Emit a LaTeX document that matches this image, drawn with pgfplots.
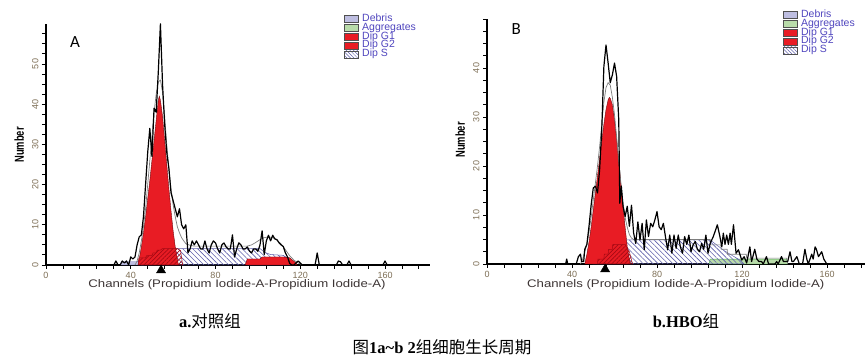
\documentclass[border=0pt]{standalone}
\usepackage{fontspec}
\setmainfont{Liberation Sans}
\newfontfamily\cjk{Noto Sans CJK SC}
\newfontfamily\tnr{Liberation Serif}
\newfontfamily\calfont{Carlito}
\usepackage{graphicx}
\usepackage{pgfplots}
\pgfplotsset{compat=1.18}
\usetikzlibrary{patterns.meta}

\definecolor{redfill}{RGB}{232,28,36}
\definecolor{redhatch}{RGB}{165,10,20}
\definecolor{sblue}{RGB}{95,95,170}
\definecolor{debris}{RGB}{190,190,225}
\definecolor{aggr}{RGB}{185,220,170}
\definecolor{modelgray}{RGB}{125,125,125}
\definecolor{legtext}{RGB}{80,70,190}
\definecolor{legbord}{RGB}{80,80,80}
\definecolor{tickc}{RGB}{125,110,85}
\definecolor{labc}{RGB}{60,52,52}

\pgfplotsset{
  fcm/.style={
    scale only axis, clip=false,
    axis x line=bottom, axis y line=left,
    axis line style={-, line width=1.1pt, black},
    xmin=0, ymin=0,
    xtick={0,40,...,160}, minor xtick={0,8,...,176},
    tick align=outside, major tick length=4pt, minor tick length=4pt,
    tick style={black, line width=0.9pt},
    tick label style={font=\fontsize{9}{9}\selectfont, text=tickc},
    /pgf/number format/assume math mode=true,
    yticklabel style={rotate=90, anchor=south},
    xlabel={\scalebox{1.2}[1]{\fontsize{11}{11}\selectfont Channels (Propidium Iodide-A-Propidium Iodide-A)}},
    xlabel style={anchor=center, text=labc},
    ylabel={\scalebox{0.72}[1]{\fontsize{13}{13}\selectfont\bfseries Number}},
    ylabel style={anchor=center},
    legend image code/.code={\draw[#1] (0pt,-3.5pt) rectangle (14pt,3.5pt);},
    legend cell align=left,
    legend style={anchor=north west, draw=none, fill=none, inner sep=0pt,
      font=\fontsize{10.5}{10.5}\selectfont, text=legtext, row sep=0pt,
      nodes={text height=6.5pt, text depth=1.5pt, inner ysep=0.4pt, inner xsep=3.5pt}},
  },
  S/.style={draw=sblue, line width=0.5pt, pattern={Lines[angle=-45,distance=3.5pt,line width=0.6pt]}, pattern color=sblue, forget plot},
  RH/.style={draw=redhatch, line width=0.5pt, pattern={Lines[angle=45,distance=3pt,line width=0.6pt]}, pattern color=redhatch, forget plot},
  RF/.style={draw=redhatch!70!black, line width=0.4pt, fill=redfill, forget plot},
  model/.style={draw=modelgray, line width=0.7pt, forget plot},
  data/.style={draw=black, line width=1.2pt, line join=round, forget plot},
}

\begin{document}
\begin{tikzpicture}
\path[use as bounding box] (0,0) rectangle (867pt,358pt);

% ---------------- Panel A ----------------
\begin{axis}[fcm, at={(46pt,93pt)}, anchor=south west,
  width=383.5pt, height=241.2pt, xmax=181, ymax=60,
  ytick={0,10,...,50}, minor ytick={0,2.5,...,57.5},
  legend style={at={(0.777,1.0386)}},
  ylabel style={at={(axis description cs:-0.070,0.498)}},
  xlabel style={at={(axis description cs:0.498,-0.083)}}]
\addlegendimage{fill=debris, draw=legbord}
\addlegendimage{fill=aggr, draw=legbord}
\addlegendimage{fill=redfill, draw=legbord}
\addlegendimage{fill=redfill, draw=legbord}
\addlegendimage{draw=legbord, pattern={Lines[angle=-45,distance=2.5pt,line width=0.5pt]}, pattern color=sblue}
\legend{Debris, Aggregates, Dip G1, Dip G2, Dip S}
% debris
\addplot[fill=debris, draw=sblue, line width=0.4pt, forget plot] coordinates {(35,0)(35.5,0.8)(43,0.8)(44,1.2)(45,0.6)(46,0)} \closedcycle;
% S phase
\addplot[S] coordinates {(45,0)(48,2)(52,3.5)(55,4.1)(101,4.1)(103,3.2)(106,2.6)(112,2.4)(116,1)(117.5,0)} \closedcycle;
% G1
\addplot[RF] coordinates {(43.5,0)(44,1.5)(45,4.5)(46,8)(47,12)(48,16.5)(49,21)(50,26)(51,31)(52,36)(53,41)(53.5,42)(54,41)(55,37)(56,31)(57,25)(58,19)(59,13.5)(60,8.5)(61,4.5)(62,1.5)(62.5,0)} \closedcycle;
% G2
\addplot[RF] coordinates {(94,0)(95,1.5)(101,1.5)(102,2)(112,2)(115,1.8)(118,0.5)(118.5,0)} \closedcycle;
% red hatched
\addplot[RH] coordinates {(43.5,0)(43.8,1.8)(47,1.8)(47.5,2.3)(50,2.3)(50.5,3)(52,3)(52.5,3.7)(54,3.7)(55,4.1)(62,4.1)(63.5,3.6)(64.5,0)} \closedcycle;
% model
\addplot[model] coordinates {(42,0)(43,1)(44,3)(45,6)(46,9.5)(47,14)(48,20)(49,26)(50,32)(51,38)(52,42.5)(53,45.5)(54,46)(55,43)(56,37)(57,30)(58,24)(59,19)(60,15)(61,12)(62,9.5)(63,8)(64,6.8)(65,6)(66,5.3)(68,4.9)(70,4.7)(95,4.7)(97,5)(99,5.6)(101,6.3)(103,6.8)(105,7)(107,6.8)(109,6.2)(111,5.2)(113,3.8)(115,2.3)(117,1.2)(119,0.5)(121,0)};
% data
\addplot[data] coordinates {(28,0)(32,0)(33,1)(34,0)(35,0)(36,1)(37,0.5)(38,1)(39,0)(40,2)(41,1.5)(42,2)(43,5)(44,7)(45,7.5)(46,12)(47,20)(48,28)(49,34)(50,27)(51,39)(52,38)(53,48)(54,60)(55,45)(56,35)(57,28)(58,24)(59,18)(60,16)(61,14)(62,12)(63,14)(64,10)(65,9)(66,10)(67,3)(68,4)(69,6)(70,5)(71,6)(72,5)(73,4)(74,4)(75,6)(76,4)(77,3)(78,5)(79,6)(80,5.5)(81,4)(82,3)(83,5)(84,5.5)(85,4.5)(86,4)(87,4)(88,7.5)(89,2)(90,4)(91,5.5)(92,5)(93,4)(94,4)(95,4.5)(96,3.5)(97,3)(98,4)(99,4)(100,3.4)(101,5)(102,8.5)(103,2.6)(104,6)(105,7.4)(106,6)(107,7.4)(108,6.5)(109,6.3)(110,5.5)(111,5)(112,4.6)(113,3)(114,2)(115,0.4)(116,0)(117,0)(118,0.5)(119,1)(120,0.5)(121,0)(127,0)(128,3)(129,0)(137,0)(138,1)(139,0.8)(140,0)(142,0)(143,1)(144,0)(159,0)(160,1)(161,0)(170,0)};
\addplot[only marks, mark=triangle*, mark size=5.3pt, black, forget plot] coordinates {(54.3,-1.32)};
\node[font=\calfont\fontsize{17}{17}\selectfont] at (axis description cs:0.0756,0.925) {A};
\end{axis}

% ---------------- Panel B ----------------
\begin{axis}[fcm, at={(487pt,94pt)}, anchor=south west,
  width=378.25pt, height=245pt, xmax=178, ymax=50,
  ytick={0,10,...,40}, minor ytick={0,2.5,...,50},
  legend style={at={(0.7826,1.0347)}},
  ylabel style={at={(axis description cs:-0.071,0.506)}},
  xlabel style={at={(axis description cs:0.499,-0.086)}}]
\addlegendimage{fill=debris, draw=legbord}
\addlegendimage{fill=aggr, draw=legbord}
\addlegendimage{fill=redfill, draw=legbord}
\addlegendimage{fill=redfill, draw=legbord}
\addlegendimage{draw=legbord, pattern={Lines[angle=-45,distance=2.5pt,line width=0.5pt]}, pattern color=sblue}
\legend{Debris, Aggregates, Dip G1, Dip G2, Dip S}
% aggregates
\addplot[fill=aggr, draw=green!40!gray, line width=0.4pt, forget plot] coordinates {(104.5,0)(105,1)(141,1)(141.5,0)} \closedcycle;
% S phase
\addplot[S] coordinates {(50,0)(55,2)(60,4)(64,4.9)(105,4.9)(112,2.6)(119,0.8)(121,0)} \closedcycle;
% G1
\addplot[RF] coordinates {(46,0)(47,2)(48,4.5)(49,7.5)(50,11)(51,14.5)(52,18)(53,21.5)(54,25)(55,28.5)(56,31.5)(57,33.5)(57.6,34)(58,33.8)(59,32.5)(60,29.5)(61,25.5)(62,21)(63,16.5)(64,12)(65,7.5)(66,3.5)(67,1)(67.5,0)} \closedcycle;
% red hatched
\addplot[RH] coordinates {(52,0)(52.2,1)(55,1)(55.2,2)(57,2)(57.2,3)(59,3)(59.2,4)(65,4)(67,2.5)(68.5,0)} \closedcycle;
% model
\addplot[model] coordinates {(44,0)(45,1)(46,2.5)(47,4)(48,6.5)(49,9.5)(50,13)(51,16.5)(52,20)(53,24)(54,28.5)(55,33)(56,36)(57,37)(58,36.5)(59,34)(60,30.5)(61,26)(62,21)(63,16.5)(64,12.5)(65,9.5)(66,7.5)(67,6)(68,5.3)(69,5)(105,5)(105.2,3.9)(110,3.9)(110.2,3)(113,3)(113.2,2)(122,2)(122.2,1.2)(141,1.2)(141.5,0)};
% data
\addplot[data] coordinates {(35,0)(37,0)(37.5,1)(38,0)(42,0)(43,1.5)(44,2)(44.5,0.5)(45.5,0.5)(46,3)(47,4)(48,7.7)(49,12)(50,15.5)(51,15.9)(52,14.5)(53,19.3)(54,27.4)(55,40.3)(56,44.7)(57,41)(58,37)(59,38.6)(60,41)(61,38.3)(62,29.4)(62.5,12.4)(63.2,15.9)(64,11.8)(65,9.7)(66,11.8)(67,7.7)(68,12)(69,6.3)(70,4.2)(71,8.6)(72,4.9)(73,8.3)(74,2.9)(75,9)(76,5.6)(77,8.3)(78,7.6)(79,9)(80,10.7)(81,7.6)(82,7)(83,8.3)(84,5.5)(85,2.9)(86,5.9)(87,2.2)(88,5.9)(89,3.2)(90,5.9)(91,3.5)(92,2.2)(93,5.6)(94,4)(95,5.9)(96,2.5)(97,3.9)(98,4.6)(99,3)(100,2.5)(101,4.2)(102,3)(103,5.9)(104,2.2)(105,4.2)(106.5,5.6)(108.4,8)(109.6,5.6)(110.5,3.5)(111.2,6.3)(112,4)(112.8,5.9)(113.6,4)(114.4,6.3)(115,4)(116,8)(117.2,2.2)(118.3,2.9)(119.9,0.8)(121,1.5)(122.2,0.2)(123.7,3.5)(124.5,0.5)(126,3)(127,1)(128,0.5)(129.2,0.5)(130,0)(131.5,1.5)(132.5,0)(135.5,0)(136.3,0.5)(137,0)(138.6,1.5)(139.5,0.5)(141.5,0.5)(142.6,2.5)(143.5,0.5)(144.2,0.5)(145.8,1.5)(147,0)(148.5,0)(149.6,3)(150.5,1)(151.2,0)(152.8,2)(153.5,1)(154.4,3.5)(155,3)(156,1.5)(157.5,2.5)(158.5,1)(159.9,0)(162,0)};
\addplot[only marks, mark=triangle*, mark size=5.3pt, black, forget plot] coordinates {(55.6,-1.08)};
\node[font=\calfont\fontsize{17}{17}\selectfont] at (axis description cs:0.077,0.959) {B};
\end{axis}

% ---------------- captions ----------------
\node[font=\fontsize{16.5}{16.5}\selectfont] at (210pt,37pt) {{\tnr\bfseries a.}{\cjk 对照组}};
\node[font=\fontsize{16.5}{16.5}\selectfont] at (686pt,37pt) {{\tnr\bfseries b.HBO}{\cjk 组}};
\node[font=\fontsize{16.5}{16.5}\selectfont] at (442pt,11pt) {{\cjk 图}{\tnr\bfseries 1a\char`~b 2}{\cjk 组细胞生长周期}};
\end{tikzpicture}
\end{document}
